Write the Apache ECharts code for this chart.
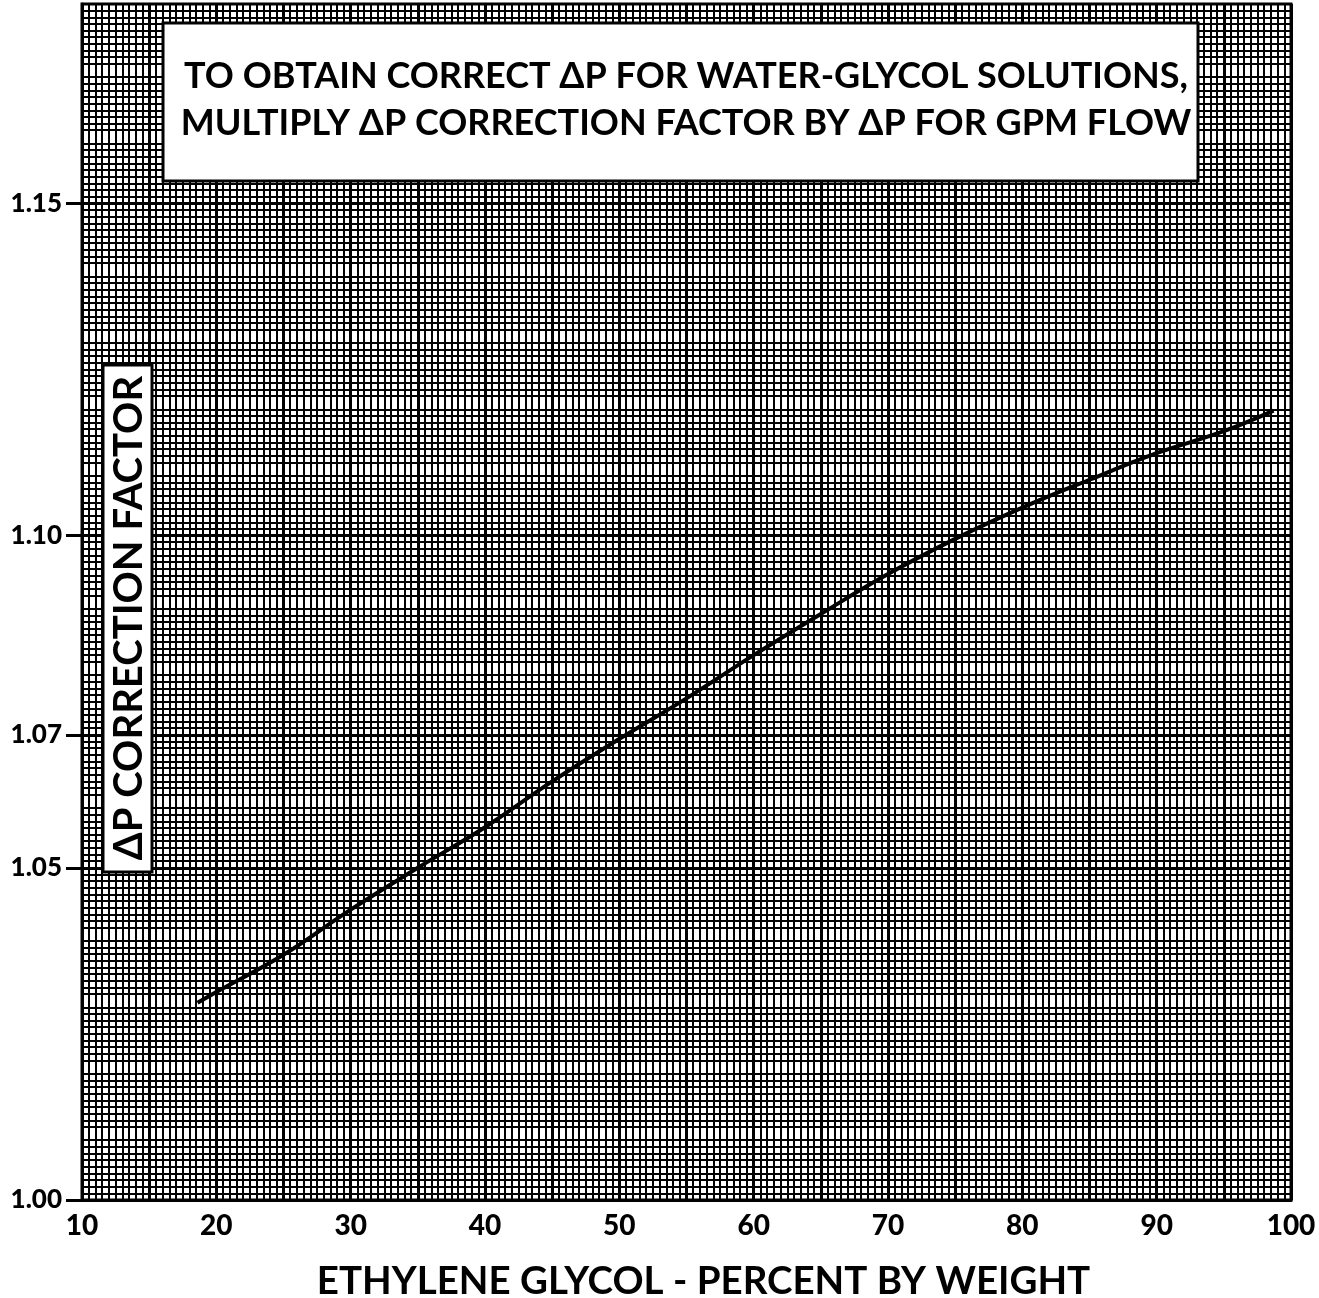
<!DOCTYPE html>
<html>
<head>
<meta charset="utf-8">
<script src="https://cdn.jsdelivr.net/npm/echarts@6/dist/echarts.min.js"></script>
<style>
  html, body { margin: 0; padding: 0; background: #fff; }
  #chart { width: 1319px; height: 1298px; }
</style>
</head>
<body>
<div id="chart"></div>
<script>
// Ethylene glycol percent by weight
const glycolPct = [18.6, 20, 25, 30, 35, 40, 45, 50, 55, 60, 65, 70, 75, 80, 85, 90, 95, 98.7];
// ΔP correction factor
const correctionFactor = [1.0297, 1.0313, 1.0369, 1.0437, 1.0500, 1.0561, 1.0630, 1.0694, 1.0755, 1.0820, 1.0882, 1.0942, 1.0995, 1.1042, 1.1084, 1.1124, 1.1157, 1.1188];
const xTickValues = [10, 20, 30, 40, 50, 60, 70, 80, 90, 100];
const yTickValues = [1.00, 1.05, 1.07, 1.10, 1.15];

const noteText = 'TO OBTAIN CORRECT ΔP FOR WATER-GLYCOL SOLUTIONS,\nMULTIPLY ΔP CORRECTION FACTOR BY ΔP FOR GPM FLOW';
const yTitle = 'ΔP CORRECTION FACTOR';
const xTitle = 'ETHYLENE GLYCOL - PERCENT BY WEIGHT';

const FONT = 'Lato';
const chart = echarts.init(document.getElementById('chart'), null, { renderer: 'canvas' });

chart.setOption({
  animation: false,
  backgroundColor: '#fff',
  grid: {
    left: 82, right: 28, top: 4, bottom: 98,
    outerBoundsMode: 'none', containLabel: false,
    show: true, borderColor: '#000', borderWidth: 3, backgroundColor: '#fff'
  },
  xAxis: {
    type: 'value', min: 10, max: 100, interval: 5,
    axisLine: { show: true, lineStyle: { color: '#000', width: 3 } },
    axisTick: { show: false },
    axisLabel: {
      customValues: xTickValues,
      color: '#000', fontFamily: FONT, fontWeight: 900, fontSize: 28, margin: 12
    },
    splitLine: { show: true, lineStyle: { color: '#000', width: 3 } },
    minorTick: { show: false, splitNumber: 10 },
    minorSplitLine: { show: true, lineStyle: { color: '#000', width: 2 } },
    name: xTitle, nameLocation: 'middle', nameGap: 62,
    nameTextStyle: { color: '#000', fontFamily: FONT, fontWeight: 'bold', fontSize: 38.5, padding: [0, 0, 0, 34] }
  },
  yAxis: {
    type: 'value', min: 1.00, max: 1.18, interval: 0.01,
    axisLine: { show: true, lineStyle: { color: '#000', width: 3 } },
    axisTick: { show: true, customValues: yTickValues, length: 16, lineStyle: { color: '#000', width: 3 } },
    axisLabel: {
      customValues: yTickValues,
      formatter: v => v.toFixed(2),
      color: '#000', fontFamily: FONT, fontWeight: 900, fontSize: 26, margin: 20
    },
    splitLine: { show: true, lineStyle: { color: '#000', width: 3 } },
    minorTick: { show: false, splitNumber: 10 },
    minorSplitLine: { show: true, lineStyle: { color: '#000', width: 2 } }
  },
  series: [{
    type: 'line',
    data: glycolPct.map((x, i) => [x, correctionFactor[i]]),
    smooth: 0.4,
    showSymbol: false,
    lineStyle: { color: '#000', width: 4 },
    z: 5
  }],
  graphic: [
    { type: 'rect', z: 100, shape: { x: 163, y: 23, width: 1035, height: 158 },
      style: { fill: '#fff', stroke: '#000', lineWidth: 3 } },
    { type: 'text', z: 101, x: 686, y: 100,
      style: { text: noteText, fill: '#000', font: 'bold 36px ' + FONT,
               align: 'center', verticalAlign: 'middle', lineHeight: 47 } },
    { type: 'rect', z: 100, shape: { x: 103, y: 365, width: 49, height: 507 },
      style: { fill: '#fff', stroke: '#000', lineWidth: 3 } },
    { type: 'text', z: 101, x: 129, y: 618, rotation: Math.PI / 2,
      style: { text: yTitle, fill: '#000', font: 'bold 40px ' + FONT,
               align: 'center', verticalAlign: 'middle' } }
  ]
});
</script>
</body>
</html>
